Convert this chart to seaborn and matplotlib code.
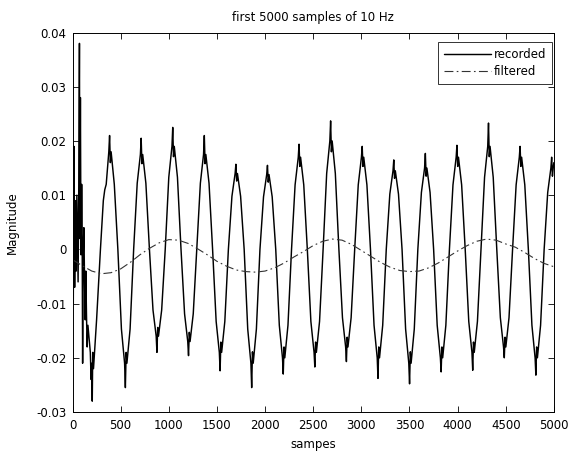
import matplotlib
matplotlib.use("Agg")
import matplotlib.pyplot as plt
import seaborn as sns
import pandas as pd

# ---- recorded signal: values (sample, magnitude) ----
rec_samples = [
    0, 8, 15, 22, 30, 38, 45, 52, 58, 65, 72, 76, 82, 88, 95, 100, 105, 110, 118, 125, 132, 138, 145, 152,
    160, 185, 193, 200, 205, 210, 218, 250, 290,
    320, 335, 350, 377, 385, 393, 401, 434, 471,
    508, 541, 549, 557, 565, 598, 635,
    672, 705, 713, 721, 729, 762, 799,
    836, 869, 877, 885, 893, 926, 963,
    1000, 1033, 1041, 1049, 1057, 1090, 1127,
    1164, 1197, 1205, 1213, 1221, 1254, 1291,
    1328, 1361, 1369, 1377, 1385, 1418, 1455,
    1492, 1525, 1533, 1541, 1549, 1582, 1619,
    1656, 1689, 1697, 1705, 1713, 1746, 1783,
    1820, 1853, 1861, 1869, 1877, 1910, 1947,
    1984, 2017, 2025, 2033, 2041, 2074, 2111,
    2148, 2181, 2189, 2197, 2205, 2238, 2275,
    2312, 2345, 2353, 2361, 2369, 2402, 2439,
    2476, 2509, 2517, 2525, 2533, 2566, 2603,
    2640, 2673, 2681, 2689, 2697, 2730, 2767,
    2804, 2837, 2845, 2853, 2861, 2894, 2931,
    2968, 3001, 3009, 3017, 3025, 3058, 3095,
    3132, 3165, 3173, 3181, 3189, 3222, 3259,
    3296, 3329, 3337, 3345, 3353, 3386, 3423,
    3460, 3493, 3501, 3509, 3517, 3550, 3587,
    3624, 3657, 3665, 3673, 3681, 3714, 3751,
    3788, 3821, 3829, 3837, 3845, 3878, 3915,
    3952, 3985, 3993, 4001, 4009, 4042, 4079,
    4116, 4149, 4157, 4165, 4173, 4206, 4243,
    4280, 4313, 4321, 4329, 4337, 4370, 4407,
    4444, 4477, 4485, 4493, 4501, 4534, 4571,
    4608, 4641, 4649, 4657, 4665, 4698, 4735,
    4772, 4805, 4813, 4821, 4829, 4862, 4899,
    4936, 4969, 4977, 4985, 4993, 5000,
]
rec_values = [
    0.012, -0.010, 0.019, -0.007, 0.009, -0.004, 0.010, 0.002, -0.006, 0.012, 0.038, 0.002, 0.028, -0.001,
    0.012, 0.004, -0.021, -0.002, 0.004, -0.006, -0.013, -0.004, -0.012, -0.018,
    -0.014, -0.019, -0.024, -0.021, -0.028, -0.019, -0.022, -0.013, 0.0,
    0.009, 0.011, 0.012, 0.018, 0.021, 0.016, 0.018, 0.012, 0.0,
    -0.0147, -0.021, -0.0255, -0.019, -0.021, -0.0147, 0.0,
    0.0122, 0.0175, 0.0205, 0.0158, 0.0175, 0.0122, 0.0,
    -0.0112, -0.016, -0.019, -0.0144, -0.016, -0.0112, 0.0,
    0.0133, 0.019, 0.0225, 0.0171, 0.019, 0.0133, 0.0,
    -0.0119, -0.017, -0.0196, -0.0153, -0.017, -0.0119, 0.0,
    0.0122, 0.0175, 0.021, 0.0158, 0.0175, 0.0122, 0.0,
    -0.0133, -0.019, -0.0224, -0.0171, -0.019, -0.0133, 0.0,
    0.0098, 0.014, 0.0157, 0.0126, 0.014, 0.0098, 0.0,
    -0.0147, -0.021, -0.0255, -0.0189, -0.021, -0.0147, 0.0,
    0.0097, 0.0138, 0.0155, 0.0124, 0.0138, 0.0097, 0.0,
    -0.014, -0.020, -0.023, -0.018, -0.020, -0.014, 0.0,
    0.0119, 0.017, 0.0194, 0.0153, 0.017, 0.0119, 0.0,
    -0.0133, -0.019, -0.0217, -0.0171, -0.019, -0.0133, 0.0,
    0.014, 0.020, 0.0237, 0.018, 0.020, 0.014, 0.0,
    -0.0126, -0.018, -0.0207, -0.0162, -0.018, -0.0126, 0.0,
    0.0119, 0.017, 0.019, 0.0153, 0.017, 0.0119, 0.0,
    -0.014, -0.020, -0.0238, -0.018, -0.020, -0.014, 0.0,
    0.0102, 0.0145, 0.0165, 0.0131, 0.0145, 0.0102, 0.0,
    -0.0147, -0.021, -0.0248, -0.0189, -0.021, -0.0147, 0.0,
    0.0105, 0.015, 0.0177, 0.0135, 0.015, 0.0105, 0.0,
    -0.014, -0.020, -0.0226, -0.018, -0.020, -0.014, 0.0,
    0.0119, 0.017, 0.0192, 0.0153, 0.017, 0.0119, 0.0,
    -0.0133, -0.019, -0.0223, -0.0171, -0.019, -0.0133, 0.0,
    0.0133, 0.019, 0.0233, 0.0171, 0.019, 0.0133, 0.0,
    -0.0126, -0.018, -0.020, -0.0162, -0.018, -0.0126, 0.0,
    0.0119, 0.017, 0.019, 0.0153, 0.017, 0.0119, 0.0,
    -0.014, -0.020, -0.0232, -0.018, -0.020, -0.014, 0.0,
    0.0105, 0.015, 0.017, 0.0135, 0.015, 0.016,
]

# ---- filtered signal ----
filt_samples = list(range(0, 5001, 100))
filt_values = [
    -0.0019, -0.0030, -0.0040, -0.0045, -0.0043, -0.0036, -0.0024, -0.0010, 0.0002, 0.0012,
    0.0018, 0.0017, 0.0011, 0.0001, -0.0010, -0.0022, -0.0031, -0.0038, -0.0041, -0.0042,
    -0.0040, -0.0034, -0.0025, -0.0014, -0.0004, 0.0007, 0.0015, 0.0019, 0.0017, 0.0009,
    -0.0002, -0.0013, -0.0024, -0.0033, -0.0039, -0.0041, -0.0040, -0.0034, -0.0025, -0.0014,
    -0.0003, 0.0007, 0.0015, 0.0019, 0.0017, 0.0010, 0.0004, -0.0006, -0.0017, -0.0026,
    -0.0032,
]

x_ticks = [0, 500, 1000, 1500, 2000, 2500, 3000, 3500, 4000, 4500, 5000]
y_ticks = [-0.03, -0.02, -0.01, 0, 0.01, 0.02, 0.03, 0.04]
y_ticklabels = ["-0.03", "-0.02", "-0.01", "0", "0.01", "0.02", "0.03", "0.04"]
series_labels = ["recorded", "filtered"]

sns.set_style("white")
plt.rcParams["font.family"] = ["DejaVu Sans"]
plt.rcParams["axes.unicode_minus"] = False
plt.rcParams["text.color"] = "black"
plt.rcParams["axes.labelcolor"] = "black"
plt.rcParams["xtick.color"] = "black"
plt.rcParams["ytick.color"] = "black"

FS = 8.5
fig = plt.figure(figsize=(5.71, 4.55), dpi=100)
ax = fig.add_axes([0.127, 0.0945, 0.843, 0.834])

rec_df = pd.DataFrame({"sample": rec_samples, "magnitude": rec_values})
filt_df = pd.DataFrame({"sample": filt_samples, "magnitude": filt_values})

sns.lineplot(data=rec_df, x="sample", y="magnitude", ax=ax, color="black",
             linewidth=1.05, sort=False, estimator=None, label=series_labels[0])
sns.lineplot(data=filt_df, x="sample", y="magnitude", ax=ax, color="#333333",
             linewidth=0.8, sort=False, estimator=None, label=series_labels[1],
             linestyle=(0, (8, 3, 1.5, 3)))

ax.set_xlim(0, 5000)
ax.set_ylim(-0.03, 0.04)
ax.set_xticks(x_ticks)
ax.set_xticklabels([str(t) for t in x_ticks])
ax.set_yticks(y_ticks)
ax.set_yticklabels(y_ticklabels)
ax.tick_params(direction="in", length=4, width=0.6, labelsize=FS, colors="black",
               labelcolor="black", top=True, right=True, bottom=True, left=True)
ax.tick_params(axis="x", pad=5)
ax.tick_params(axis="y", pad=4.5)
for s in ax.spines.values():
    s.set_visible(True)
    s.set_color("black")
    s.set_linewidth(0.7)

ax.set_title("first 5000 samples of 10 Hz", fontsize=FS, pad=8, color="black")
ax.set_xlabel("sampes", fontsize=FS, labelpad=4, color="black")
ax.set_ylabel("Magnitude", fontsize=FS, labelpad=12, color="black")

leg = ax.legend(loc="upper right", bbox_to_anchor=(0.997, 0.974), borderaxespad=0,
                fontsize=FS, frameon=True, fancybox=False, handlelength=4.0,
                handletextpad=0.25, borderpad=0.5, labelspacing=0.35)
leg.get_frame().set_edgecolor("black")
leg.get_frame().set_linewidth(0.7)
for t in leg.get_texts():
    t.set_color("black")

fig.savefig("out.png", dpi=100, facecolor="white")
